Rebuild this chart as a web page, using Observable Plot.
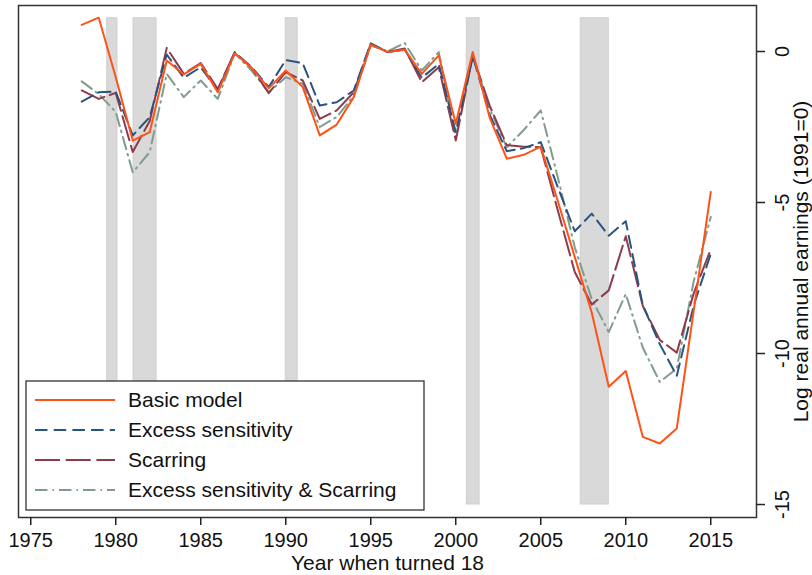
<!DOCTYPE html>
<html>
<head>
<meta charset="utf-8">
<script src="https://cdn.jsdelivr.net/npm/d3@7"></script>
<script src="https://cdn.jsdelivr.net/npm/@observablehq/plot@0.6"></script>
<style>
  html, body { margin: 0; padding: 0; background: #fff; }
  #chart svg { display: block; }
</style>
</head>
<body>
<div id="chart"></div>
<script>
// ---- Data ----
const years = [1978,1979,1980,1981,1982,1983,1984,1985,1986,1987,1988,1989,1990,1991,1992,1993,1994,1995,1996,1997,1998,1999,2000,2001,2002,2003,2004,2005,2006,2007,2008,2009,2010,2011,2012,2013,2014,2015];

const basicModel = [0.88,1.12,-0.85,-2.95,-2.67,-0.30,-0.76,-0.41,-1.35,-0.06,-0.55,-1.22,-0.63,-1.18,-2.78,-2.42,-1.51,0.23,-0.02,0.06,-0.74,-0.13,-2.39,-0.02,-2.20,-3.55,-3.42,-3.15,-4.95,-6.80,-8.65,-11.10,-10.58,-12.76,-12.98,-12.48,-8.57,-4.65];

const excessSensitivity = [-1.66,-1.35,-1.33,-2.78,-2.17,-0.10,-0.87,-0.52,-1.29,-0.04,-0.52,-1.18,-0.28,-0.39,-1.79,-1.68,-1.29,0.27,-0.02,0.06,-0.87,-0.41,-2.67,-0.15,-2.10,-3.30,-3.20,-3.00,-4.49,-5.95,-5.37,-6.10,-5.62,-8.40,-9.69,-10.74,-8.40,-6.70];

const scarring = [-1.29,-1.57,-1.37,-3.33,-2.30,0.12,-0.74,-0.38,-1.24,-0.02,-0.55,-1.38,-0.68,-0.96,-2.23,-1.95,-1.35,0.25,-0.02,0.10,-1.02,-0.52,-2.95,-0.15,-1.80,-3.10,-3.15,-3.17,-5.26,-7.30,-8.38,-7.91,-6.12,-8.42,-9.55,-9.97,-8.00,-6.55];

const excessAndScarring = [-0.99,-1.41,-2.00,-4.00,-3.33,-0.74,-1.51,-0.96,-1.57,-0.06,-0.64,-1.35,-0.85,-1.07,-2.50,-2.17,-1.46,0.20,0.01,0.28,-0.63,-0.02,-2.84,-0.12,-1.90,-3.17,-2.60,-1.95,-4.16,-6.48,-8.20,-9.29,-8.03,-9.80,-10.94,-10.50,-7.60,-5.48];

const seriesNames = ["Basic model","Excess sensitivity","Scarring","Excess sensitivity & Scarring"];

// Recession shading (fractional years)
const recessionStart = [1979.5, 1981.05, 1990.0, 2000.65, 2007.35];
const recessionEnd   = [1980.1, 1982.4, 1990.7, 2001.4, 2009.0];
const recessionTop = 1.1;
const recessionBottom = -15;

// Axis ticks and domains
const xTicks = [1975,1980,1985,1990,1995,2000,2005,2010,2015];
const yTicks = [0,-5,-10,-15];
const xDomain = [1974.28, 2017.69];
const yDomain = [-15.43, 1.523];

// ---- Styles ----
const seriesStyle = {
  "Basic model": {stroke: "#ff5218", dash: null},
  "Excess sensitivity": {stroke: "#2a5480", dash: "12.5,6.2"},
  "Scarring": {stroke: "#8e3b4c", dash: "25,5.7"},
  "Excess sensitivity & Scarring": {stroke: "#7f9c8d", dash: "12.5,5,1.5,5"}
};

const seriesValues = [basicModel, excessSensitivity, scarring, excessAndScarring];
const rows = [];
seriesNames.forEach((name, i) => {
  years.forEach((yr, j) => rows.push({series: name, year: yr, value: seriesValues[i][j]}));
});
const recessions = recessionStart.map((s, i) => ({start: s, end: recessionEnd[i], top: recessionTop, bottom: recessionBottom}));

const drawOrder = ["Excess sensitivity & Scarring","Scarring","Excess sensitivity","Basic model"];

const lineMarks = drawOrder.map(name => Plot.line(rows.filter(d => d.series === name), {
  x: "year", y: "value",
  stroke: seriesStyle[name].stroke,
  strokeWidth: 2,
  strokeDasharray: seriesStyle[name].dash,
  strokeLinejoin: "round"
}));

const font = "'Liberation Sans', Arial, Helvetica, sans-serif";

const chart = Plot.plot({
  width: 812,
  height: 575,
  marginLeft: 18,
  marginRight: 56,
  marginTop: 5,
  marginBottom: 58,
  style: {fontFamily: font, fontSize: "20px", color: "#111", background: "#fff"},
  x: {domain: xDomain},
  y: {domain: yDomain},
  marks: [
    Plot.rect(recessions, {x1: "start", x2: "end", y1: "bottom", y2: "top", fill: "#d9d9d9", stroke: "#cecece", strokeWidth: 1}),
    ...lineMarks,
    Plot.frame({stroke: "#333", strokeWidth: 1.5}),
    Plot.axisX({
      ticks: xTicks, tickFormat: d => String(d), tickSize: 8, tickPadding: 7,
      stroke: "#222", strokeWidth: 1.5, fill: "#111",
      label: "Year when turned 18", labelAnchor: "center", labelArrow: "none", labelOffset: 52
    }),
    Plot.axisY({
      anchor: "right", ticks: yTicks, tickFormat: d => String(d), tickSize: 8, tickPadding: 10,
      tickRotate: -90, textAnchor: "middle", lineAnchor: "top",
      stroke: "#222", strokeWidth: 1.5, fill: "#111",
      label: "Log real annual earnings (1991=0)", labelAnchor: "center", labelArrow: "none", labelOffset: 51
    })
  ]
});

document.getElementById("chart").appendChild(chart);

const svg = d3.select(chart);
// Slightly larger axis titles, as in the reference
svg.selectAll('g[aria-label="x-axis label"], g[aria-label="y-axis label"]').attr("font-size", "21px");

// ---- Legend (inside plot, bottom-left) ----
const lg = svg.append("g").attr("font-family", font).attr("text-anchor", "start");
lg.append("rect")
  .attr("x", 26).attr("y", 381).attr("width", 398).attr("height", 129)
  .attr("fill", "#fff").attr("stroke", "#333").attr("stroke-width", 1.3);
seriesNames.forEach((name, i) => {
  const yy = 400 + i * 30;
  lg.append("line")
    .attr("x1", 35).attr("x2", 115).attr("y1", yy).attr("y2", yy)
    .attr("stroke", seriesStyle[name].stroke).attr("stroke-width", 2)
    .attr("stroke-dasharray", seriesStyle[name].dash);
  lg.append("text")
    .attr("x", 128).attr("y", yy).attr("dy", "0.35em")
    .attr("text-anchor", "start")
    .attr("font-size", "21px").attr("fill", "#111")
    .text(name);
});
</script>
</body>
</html>
